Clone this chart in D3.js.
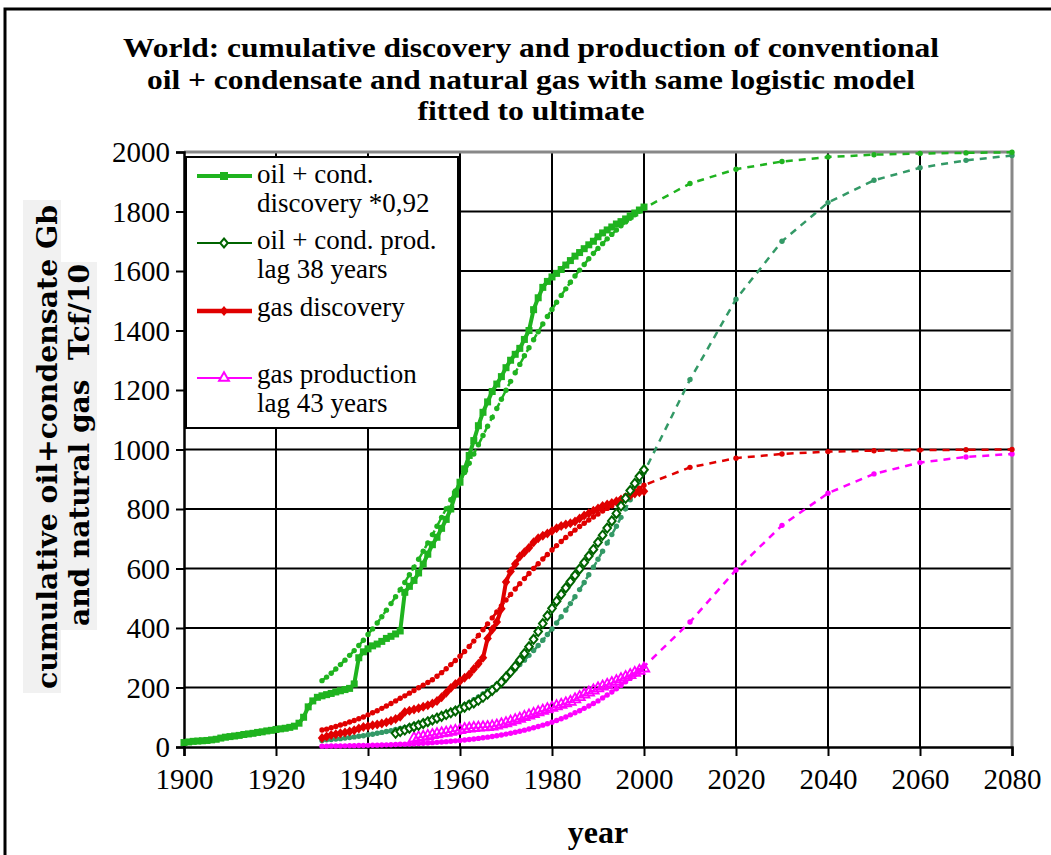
<!DOCTYPE html>
<html><head><meta charset="utf-8">
<script src="https://cdnjs.cloudflare.com/ajax/libs/d3/7.8.5/d3.min.js"></script>
<style>body{margin:0;background:#fff}svg{display:block}</style>
</head><body>
<svg id="c" width="1051" height="855"></svg>
<script>
// ---------- data ----------
const titleLines = ["World: cumulative discovery and production of conventional",
  "oil + condensate and natural gas with same logistic model", "fitted to ultimate"];
const xTicks = [1900,1920,1940,1960,1980,2000,2020,2040,2060,2080];
const yTicks = [0,200,400,600,800,1000,1200,1400,1600,1800,2000];
const yLabelLines = ["cumulative oil+condensate Gb", "and natural gas  Tcf/10"];
const xLabel = "year";
const legendLabels = [["oil + cond.","discovery *0,92"],["oil + cond. prod.","lag 38 years"],["gas discovery"],["gas production","lag 43 years"]];

const oilDiscYears = d3.range(1900, 2001);
const oilDisc = [15,17,19,20,21,22,24,26,30,33, 35,37,39,42,44,46,49,51,54,56,
  59,61,63,66,70,80,100,135,155,167, 172,176,180,185,189,193,197,212,300,320,
  330,340,346,355,365,372,380,390,520,540, 560,585,615,648,680,705,735,765,800,850,
  890,935,980,1030,1080,1125,1160,1195,1220,1245, 1275,1300,1320,1340,1370,1400,1470,1510,1545,1565,
  1580,1592,1605,1620,1635,1650,1662,1675,1688,1700, 1715,1728,1738,1748,1758,1766,1775,1785,1795,1805,
  1815];

const fitYears = d3.range(1930, 2001).concat([2010,2020,2030,2040,2050,2060,2070,2080]);
const oilDiscFit = [223,235,248,262,277,292,308,324,341,359, 378,397,417,438,460,482,505,529,553,579,
  604,631,658,686,714,742,772,801,831,861, 892,923,954,985,1016,1047,1078,1108,1138,1169,
  1199,1229,1258,1286,1315,1342,1369,1396,1422,1447, 1471,1495,1518,1540,1562,1583,1603,1622,1641,1659,
  1676,1692,1708,1723,1738,1752,1765,1777,1789,1801, 1811,
  1894,1942,1968,1983,1991,1995,1997,1999];

const oilProdYears = d3.range(1946, 2001);
const oilProd = [46,52,57,63,68,73,79,85,91,97, 103,109,115,121,128,134,141,148,157,167,
  178,190,203,218,235,252,271,292,314,337, 362,388,415,441,466,490,513,535,556,577,
  598,620,642,664,688,712,736,760,785,810, 836,862,886,910,932];

const oilProdFit = [22,24,25,27,28,30,32,34,36,38, 41,43,46,49,52,55,59,62,66,70,
  74,79,84,89,94,100,106,112,119,126, 134,142,150,159,168,178,189,199,211,223,
  235,248,262,277,292,308,324,341,359,378, 397,417,438,460,482,505,529,553,579,604,
  631,658,686,714,742,772,801,831,861,892, 923,
  1235,1505,1700,1830,1905,1947,1972,1988];

const gasDiscYears = d3.range(1930, 2001);
const gasDisc = [30,35,40,43,46,49,52,56,62,67, 70,73,76,79,83,88,94,102,118,122,
  126,130,135,140,146,155,167,182,198,212, 222,233,244,262,280,300,365,395,420,465,
  555,590,615,640,655,670,688,702,710,718, 726,735,743,748,752,758,768,778,786,794,
  802,810,815,820,826,832,838,845,852,856, 860];

const gasDiscFit = [57,60,65,69,74,78,84,89,95,101, 108,115,122,130,138,146,155,164,172,181,
  190,199,208,217,226,238,250,263,277,291, 305,321,338,356,375,394,414,434,454,474,
  494,513,531,549,566,583,600,616,632,647, 662,677,691,704,717,729,741,752,763,773,
  783,793,802,811,820,835,845,852,860,870, 880,
  940,971,985,993,996,998,999,1000];

const gasProdYears = d3.range(1950, 2001);
const gasProd = [29,32,34,37,40,43,46,48,51,54, 57,60,62,64,65,66,67,69,72,76,
  80,85,90,95,101,106,111,117,122,127, 132,137,142,147,152,160,168,176,183,190,
  197,203,209,215,221,228,235,242,249,256, 264];

const gasProdFit = [2.8,2.9,3.2,3.4,3.6,3.9,4.2,4.5,4.8,5.2, 5.5,5.9,6.3,6.8,7.3,7.8,8.4,9,9.6,10.3,
  11.1,11.9,12.7,13.6,14.6,15.6,16.7,17.9,19.2,20.6, 22,23.6,25.3,27,28.9,31,33.1,35.5,37.9,40.5,
  43.3,46.3,49.5,52.9,56.6,60.4,64.5,68.9,73.5,78.4, 83.6,89.1,95,101,108,115,122,130,138,146,
  155,165,175,185,196,207,219,231,243,257, 270,
  420,595,745,853,918,956,975,985];

// ---------- styles ----------
const C = {bright:"#1fb31f", dark:"#006400", sea:"#339966", red:"#e00000", mag:"#ff00ff"};
const serif = "'Liberation Serif','Times New Roman',serif";

const svg = d3.select("#c");
svg.append("rect").attr("x",5).attr("y",9).attr("width",1100).attr("height",900)
  .attr("fill","#fff").attr("stroke","#000").attr("stroke-width",3);

const x = d3.scaleLinear().domain([1900,2080]).range([184,1012]);
const y = d3.scaleLinear().domain([0,2000]).range([747,152]);

// title
const titleW = [816, 768, 227];
svg.append("g").selectAll("text").data(titleLines).join("text")
  .attr("x",531).attr("y",(d,i)=>57+i*31.5).attr("text-anchor","middle")
  .attr("font-family",serif).attr("font-weight","bold").attr("font-size",28)
  .attr("textLength",(d,i)=>titleW[i]).attr("lengthAdjust","spacingAndGlyphs").text(d=>d);

// grid
const g = svg.append("g");
g.selectAll(".vg").data(xTicks.slice(1,-1)).join("line")
  .attr("x1",d=>x(d)).attr("x2",d=>x(d)).attr("y1",y(2000)).attr("y2",y(0))
  .attr("stroke","#000").attr("stroke-width",2);
g.selectAll(".hg").data(yTicks.slice(1,-1)).join("line")
  .attr("x1",x(1900)).attr("x2",x(2080)).attr("y1",d=>y(d)).attr("y2",d=>y(d))
  .attr("stroke","#000").attr("stroke-width",2);
g.append("path").attr("d",`M${x(1900)},${y(2000)}H${x(2080)}V${y(0)}`)
  .attr("fill","none").attr("stroke","#888").attr("stroke-width",3);

// axes
const xAxis = svg.append("g").attr("transform",`translate(0,${y(0)})`)
  .call(d3.axisBottom(x).tickValues(xTicks).tickFormat(d3.format("d")).tickSize(9).tickPadding(12));
const yAxis = svg.append("g").attr("transform",`translate(${x(1900)},0)`)
  .call(d3.axisLeft(y).tickValues(yTicks).tickFormat(d3.format("d")).tickSize(8).tickPadding(6));
[xAxis,yAxis].forEach(a=>{
  a.attr("font-family",serif);
  a.select(".domain").attr("stroke","#000").attr("stroke-width",2.5);
  a.selectAll(".tick line").attr("stroke","#000").attr("stroke-width",2);
  a.selectAll("text").attr("font-family",serif).attr("font-size",29).attr("fill","#000");
});
yAxis.selectAll("text").attr("dy","0.34em");

// axis titles
svg.append("text").attr("x",598).attr("y",843).attr("text-anchor","middle")
  .attr("font-family",serif).attr("font-weight","bold").attr("font-size",32).text(xLabel);

const yl = svg.append("g");
yl.append("rect").attr("x",23).attr("y",200).attr("width",38).attr("height",493).attr("fill","#f1f1f1");
yl.append("rect").attr("x",61).attr("y",262).attr("width",36).attr("height",368).attr("fill","#f1f1f1");
const ylPos = [{bx:57, cy:447, len:484},{bx:89, cy:445, len:362}];
yl.selectAll("text").data(yLabelLines).join("text")
  .attr("transform",(d,i)=>`translate(${ylPos[i].bx},${ylPos[i].cy}) rotate(-90)`)
  .attr("text-anchor","middle").attr("font-family","'DejaVu Serif',serif").attr("font-weight","bold")
  .attr("font-size",28).attr("textLength",(d,i)=>ylPos[i].len).attr("lengthAdjust","spacingAndGlyphs")
  .style("white-space","pre").text(d=>d);

// ---------- series ----------
const plot = svg.append("g");
function lineOf(years, vals){ return d3.line().x((d,i)=>x(years[i])).y(d=>y(d))(vals); }
function fit(vals, color){
  plot.append("path").attr("d",lineOf(fitYears, vals)).attr("fill","none")
    .attr("stroke",color).attr("stroke-width",2.5).attr("stroke-dasharray","7,6");
  plot.append("g").selectAll("circle").data(vals).join("circle")
    .attr("cx",(d,i)=>x(fitYears[i])).attr("cy",d=>y(d)).attr("r",2.7).attr("fill",color);
}
const diamond = (s)=>`M0,${-s}L${s*0.85},0L0,${s}L${-s*0.85},0Z`;

fit(gasProdFit, C.mag);
fit(oilProdFit, C.sea);
fit(gasDiscFit, C.red);
fit(oilDiscFit, C.bright);

// gas discovery
plot.append("path").attr("d",lineOf(gasDiscYears,gasDisc)).attr("fill","none")
  .attr("stroke",C.red).attr("stroke-width",4);
plot.append("g").selectAll("path").data(gasDisc).join("path")
  .attr("transform",(d,i)=>`translate(${x(gasDiscYears[i])},${y(d)})`).attr("d",diamond(5)).attr("fill",C.red);

// gas production
plot.append("path").attr("d",lineOf(gasProdYears,gasProd)).attr("fill","none")
  .attr("stroke",C.mag).attr("stroke-width",1.5);
plot.append("g").selectAll("path").data(gasProd).join("path")
  .attr("transform",(d,i)=>`translate(${x(gasProdYears[i])},${y(d)})`)
  .attr("d",d3.symbol(d3.symbolTriangle,48)()).attr("fill","none").attr("stroke",C.mag).attr("stroke-width",1.8);

// oil production
plot.append("path").attr("d",lineOf(oilProdYears,oilProd)).attr("fill","none")
  .attr("stroke",C.dark).attr("stroke-width",1.5);
plot.append("g").selectAll("path").data(oilProd).join("path")
  .attr("transform",(d,i)=>`translate(${x(oilProdYears[i])},${y(d)})`).attr("d",diamond(4.5))
  .attr("fill","#fff").attr("stroke",C.dark).attr("stroke-width",2);

// oil discovery
plot.append("path").attr("d",lineOf(oilDiscYears,oilDisc)).attr("fill","none")
  .attr("stroke",C.bright).attr("stroke-width",4);
plot.append("g").selectAll("rect").data(oilDisc).join("rect")
  .attr("x",(d,i)=>x(oilDiscYears[i])-3.5).attr("y",d=>y(d)-3.5).attr("width",7).attr("height",7).attr("fill",C.bright);

// ---------- legend ----------
const lg = svg.append("g");
lg.append("rect").attr("x",186).attr("y",157).attr("width",272).attr("height",271)
  .attr("fill","#fff").attr("stroke","#000").attr("stroke-width",2);
const legItems = [
  {ly:176, base:[183,212], color:C.bright, w:4, mk:"sq"},
  {ly:243, base:[249,278], color:C.dark, w:1.8, mk:"od"},
  {ly:311, base:[316], color:C.red, w:4.5, mk:"fd"},
  {ly:378, base:[383,412], color:C.mag, w:1.8, mk:"tr"}];
legItems.forEach((it,k)=>{
  lg.append("line").attr("x1",197).attr("x2",252).attr("y1",it.ly).attr("y2",it.ly)
    .attr("stroke",it.color).attr("stroke-width",it.w);
  const m = lg.append("g").attr("transform",`translate(224,${it.ly})`);
  if(it.mk==="sq") m.append("rect").attr("x",-4).attr("y",-4).attr("width",8).attr("height",8).attr("fill",it.color);
  if(it.mk==="od") m.append("path").attr("d",diamond(4.5)).attr("fill","#fff").attr("stroke",it.color).attr("stroke-width",2);
  if(it.mk==="fd") m.append("path").attr("d",diamond(5)).attr("fill",it.color);
  if(it.mk==="tr") m.append("path").attr("d",d3.symbol(d3.symbolTriangle,42)()).attr("fill","#fff").attr("stroke",it.color).attr("stroke-width",2);
  legendLabels[k].forEach((t,j)=>{
    lg.append("text").attr("x",257).attr("y",it.base[j]).attr("font-family",serif)
      .attr("font-size",27).text(t);
  });
});
</script>
</body></html>
